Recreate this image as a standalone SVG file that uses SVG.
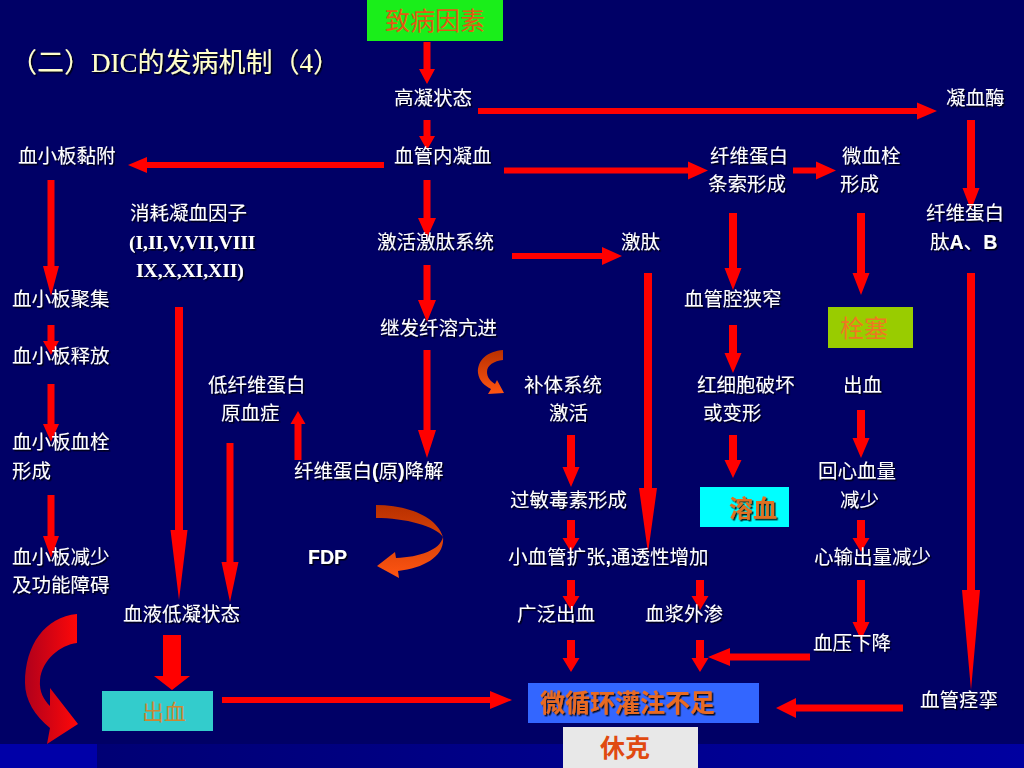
<svg xmlns="http://www.w3.org/2000/svg" width="1024" height="768" viewBox="0 0 1024 768">
<defs>
<style>
.lb{font-family:"Noto Sans CJK SC","Noto Sans",sans-serif;font-size:19.5px;fill:#ffffff;filter:url(#sh)}
.rn{font-family:"Liberation Serif",serif;font-weight:bold}
.ab{font-family:"Liberation Sans",Arial,sans-serif;font-weight:bold}
.arr{fill:#ff0000}
.bx{font-family:"Noto Sans CJK SC",sans-serif}
</style>
<filter id="sh" x="-10%" y="-20%" width="130%" height="150%">
<feDropShadow dx="1.5" dy="1.5" stdDeviation="0.5" flood-color="#000000" flood-opacity="0.85"/>
</filter>
<linearGradient id="band" x1="0" y1="0" x2="1" y2="0">
<stop offset="0" stop-color="#000070"/>
<stop offset="1" stop-color="#0000a0"/>
</linearGradient>
<linearGradient id="bigred" x1="0" y1="0" x2="1" y2="0">
<stop offset="0" stop-color="#b0001c"/>
<stop offset="1" stop-color="#ff0808"/>
</linearGradient>
<linearGradient id="orng" x1="0" y1="0" x2="0" y2="1">
<stop offset="0" stop-color="#b83000"/>
<stop offset="1" stop-color="#ff5512"/>
</linearGradient>
</defs>

<rect x="0" y="0" width="1024" height="768" fill="#000066"/>
<rect x="0" y="744" width="1024" height="24" fill="url(#band)"/>
<rect x="0" y="744" width="97" height="24" fill="#0000a8"/>

<text x="10" y="72" font-family="'Liberation Serif','Noto Sans CJK SC',serif" font-size="27" fill="#ffffcc" filter="url(#sh)">（二）DIC的发病机制（4）</text>

<g id="connectors">
<polygon class="arr" points="423.5,42 430.5,42 430.5,69 435,69 427,84 419,69 423.5,69"/>
<polygon class="arr" points="423.5,120 430.5,120 430.5,136 435,136 427,150 419,136 423.5,136"/>
<polygon class="arr" points="423.5,180 430.5,180 430.5,218 436,218 427,238 418,218 423.5,218"/>
<polygon class="arr" points="423.5,265 430.5,265 430.5,300 436,300 427,322 418,300 423.5,300"/>
<polygon class="arr" points="423.5,350 430.5,350 430.5,430 436,430 427,458 418,430 423.5,430"/>
<polygon class="arr" points="47.5,180 54.5,180 54.5,266 59,266 51,296 43,266 47.5,266"/>
<polygon class="arr" points="47.5,325 54.5,325 54.5,341 59,341 51,355 43,341 47.5,341"/>
<polygon class="arr" points="47.5,384 54.5,384 54.5,424 59,424 51,442 43,424 47.5,424"/>
<polygon class="arr" points="47.5,495 54.5,495 54.5,536 59,536 51,558 43,536 47.5,536"/>
<polygon class="arr" points="175,307 183,307 183,530 187.5,530 179,600 170.5,530 175,530"/>
<polygon class="arr" points="226.5,443 233.5,443 233.5,562 238.5,562 230,602 221.5,562 226.5,562"/>
<polygon class="arr" points="294.5,460 301.5,460 301.5,424 305.5,424 298,411 290.5,424 294.5,424"/>
<polygon class="arr" points="967,120 975,120 975,188 979.5,188 971,210 962.5,188 967,188"/>
<polygon class="arr" points="967,273 975,273 975,590 980,590 971,690 962,590 967,590"/>
<polygon class="arr" points="729,213 737,213 737,268 741.5,268 733,290 724.5,268 729,268"/>
<polygon class="arr" points="857,213 865,213 865,273 869.5,273 861,295 852.5,273 857,273"/>
<polygon class="arr" points="644,273 652,273 652,488 657,488 648,553 639,488 644,488"/>
<polygon class="arr" points="729,325 737,325 737,353 741.5,353 733,373 724.5,353 729,353"/>
<polygon class="arr" points="857,410 865,410 865,438 869.5,438 861,458 852.5,438 857,438"/>
<polygon class="arr" points="567,435 575,435 575,467 579.5,467 571,487 562.5,467 567,467"/>
<polygon class="arr" points="729,435 737,435 737,460 741.5,460 733,478 724.5,460 729,460"/>
<polygon class="arr" points="567,520 575,520 575,538 579.5,538 571,552 562.5,538 567,538"/>
<polygon class="arr" points="857,520 865,520 865,538 869.5,538 861,552 852.5,538 857,538"/>
<polygon class="arr" points="567,580 575,580 575,596 579.5,596 571,610 562.5,596 567,596"/>
<polygon class="arr" points="696,580 704,580 704,596 708.5,596 700,610 691.5,596 696,596"/>
<polygon class="arr" points="857,580 865,580 865,622 869.5,622 861,640 852.5,622 857,622"/>
<polygon class="arr" points="567,640 575,640 575,658 579.5,658 571,672 562.5,658 567,658"/>
<polygon class="arr" points="696,640 704,640 704,658 708.5,658 700,672 691.5,658 696,658"/>
<polygon class="arr" points="478,108 917,108 917,102.5 937,111 917,119.5 917,114 478,114"/>
<polygon class="arr" points="504,167.5 688,167.5 688,161.5 708,170.5 688,179.5 688,173.5 504,173.5"/>
<polygon class="arr" points="793,167.5 816,167.5 816,161.5 836,170.5 816,179.5 816,173.5 793,173.5"/>
<polygon class="arr" points="512,253 602,253 602,247 622,256 602,265 602,259 512,259"/>
<polygon class="arr" points="222,697 490,697 490,691 512,700 490,709 490,703 222,703"/>
<polygon class="arr" points="384,162 147,162 147,157 128,165 147,173 147,168 384,168"/>
<polygon class="arr" points="810,653.5 730,653.5 730,648 708,657 730,666 730,660.5 810,660.5"/>
<polygon class="arr" points="903,704.5 796,704.5 796,698 776,708 796,718 796,711.5 903,711.5"/>
<polygon class="arr" points="163,635 181,635 181,676 190,676 172,690 154,676 163,676"/>
<path fill="url(#orng)" d="M503,350 C488,351 477,360 478,373 C479,381 485,386 491,389 L488,394 L504,393 L497,380 L495,384 C490,381 487,377 487,372 C487,365 494,361 503,360 Z"/>
<path fill="url(#orng)" d="M376,505 C405,505 436,515 443,537 C445,556 425,568 398,571 L399,578 L377,566 L395,552 L396,558 C420,557 440,550 443,537 C436,526 405,518 376,518 Z"/>
<path fill="url(#bigred)" d="M77,614 L77,643 C60,645 42,660 40,680 C39,692 44,700 50,706 L50,688 L78,724 L47,744 L50,728 C35,716 25,700 25,683 C25,645 45,617 77,614 Z"/>
</g>

<g id="n-zhibing"><rect x="367" y="0" width="136" height="41" fill="#1aee1a"/><text class="bx" x="435" y="30" font-size="25" fill="#e05a14" text-anchor="middle">致病因素</text></g>
<g id="n-gaoning"><text class="lb" x="394" y="105">高凝状态</text></g>
<g id="n-ningxuemei"><text class="lb" x="946" y="105">凝血酶</text></g>
<g id="n-nianfu"><text class="lb" x="18" y="163">血小板黏附</text></g>
<g id="n-xueguannei"><text class="lb" x="394" y="163">血管内凝血</text></g>
<g id="n-tiaosuo"><text class="lb" x="710" y="163">纤维蛋白</text><text class="lb" x="708" y="191">条索形成</text></g>
<g id="n-weixueshuan"><text class="lb" x="842" y="163">微血栓</text><text class="lb" x="840" y="191">形成</text></g>
<g id="n-xiaohao"><text class="lb" x="130" y="220">消耗凝血因子</text><text class="lb rn" x="129" y="249">(I,II,V,VII,VIII</text><text class="lb rn" x="136" y="277">IX,X,XI,XII)</text></g>
<g id="n-jitai-sys"><text class="lb" x="377" y="249">激活激肽系统</text></g>
<g id="n-jitai"><text class="lb" x="621" y="249">激肽</text></g>
<g id="n-taiAB"><text class="lb" x="926" y="220">纤维蛋白</text><text class="lb" x="930" y="249">肽<tspan class="ab">A</tspan>、<tspan class="ab">B</tspan></text></g>
<g id="n-juji"><text class="lb" x="12" y="306">血小板聚集</text></g>
<g id="n-xiazhai"><text class="lb" x="684" y="306">血管腔狭窄</text></g>
<g id="n-xianrong"><text class="lb" x="380" y="335">继发纤溶亢进</text></g>
<g id="n-shuansai"><rect x="828" y="307" width="85" height="41" fill="#99cc00"/><text class="bx" x="840" y="337" font-size="24" fill="#ee7722">栓塞</text></g>
<g id="n-shifang"><text class="lb" x="12" y="363">血小板释放</text></g>
<g id="n-dixian"><text class="lb" x="208" y="392">低纤维蛋白</text><text class="lb" x="221" y="420">原血症</text></g>
<g id="n-buti"><text class="lb" x="524" y="392">补体系统</text><text class="lb" x="549" y="420">激活</text></g>
<g id="n-hongxibao"><text class="lb" x="697" y="392">红细胞破坏</text><text class="lb" x="703" y="420">或变形</text></g>
<g id="n-chuxue2"><text class="lb" x="843" y="392">出血</text></g>
<g id="n-xueshuan"><text class="lb" x="12" y="449">血小板血栓</text><text class="lb" x="12" y="478">形成</text></g>
<g id="n-jiangjie"><text class="lb" x="294" y="478">纤维蛋白<tspan class="ab">(</tspan>原<tspan class="ab">)</tspan>降解</text></g>
<g id="n-huixin"><text class="lb" x="818" y="478">回心血量</text><text class="lb" x="840" y="507">减少</text></g>
<g id="n-guomin"><text class="lb" x="510" y="507">过敏毒素形成</text></g>
<g id="n-rongxue"><rect x="700" y="487" width="89" height="40" fill="#00ffff"/><text class="bx" x="753" y="517" font-size="24" font-weight="bold" fill="#e07020" text-anchor="middle" filter="url(#sh)">溶血</text></g>
<g id="n-jianshao"><text class="lb" x="12" y="564">血小板减少</text><text class="lb" x="12" y="592">及功能障碍</text></g>
<g id="n-fdp"><text class="lb ab" x="308" y="564" font-size="20">FDP</text></g>
<g id="n-kuozhang"><text class="lb" x="508" y="564">小血管扩张<tspan class="ab">,</tspan>通透性增加</text></g>
<g id="n-xinshu"><text class="lb" x="814" y="564">心输出量减少</text></g>
<g id="n-diningzt"><text class="lb" x="123" y="621">血液低凝状态</text></g>
<g id="n-guangfan"><text class="lb" x="517" y="621">广泛出血</text></g>
<g id="n-xuejiang"><text class="lb" x="645" y="621">血浆外渗</text></g>
<g id="n-xueya"><text class="lb" x="813" y="650">血压下降</text></g>
<g id="n-jingluan"><text class="lb" x="920" y="707">血管痉挛</text></g>
<g id="n-chuxue"><rect x="102" y="691" width="111" height="40" fill="#33cccc"/><text class="bx" x="164" y="720" font-size="22" fill="#cc8833" text-anchor="middle">出血</text></g>
<g id="n-weixunhuan"><rect x="528" y="683" width="231" height="40" fill="#3366ff"/><text class="bx" x="540" y="712" font-size="25" font-weight="bold" fill="#e86a20" filter="url(#sh)">微循环灌注不足</text></g>
<g id="n-xiuke"><rect x="563" y="727" width="135" height="41" fill="#e8e8e8"/><text class="bx" x="625" y="757" font-size="25" font-weight="bold" fill="#e04a10" text-anchor="middle">休克</text></g>
</svg>
